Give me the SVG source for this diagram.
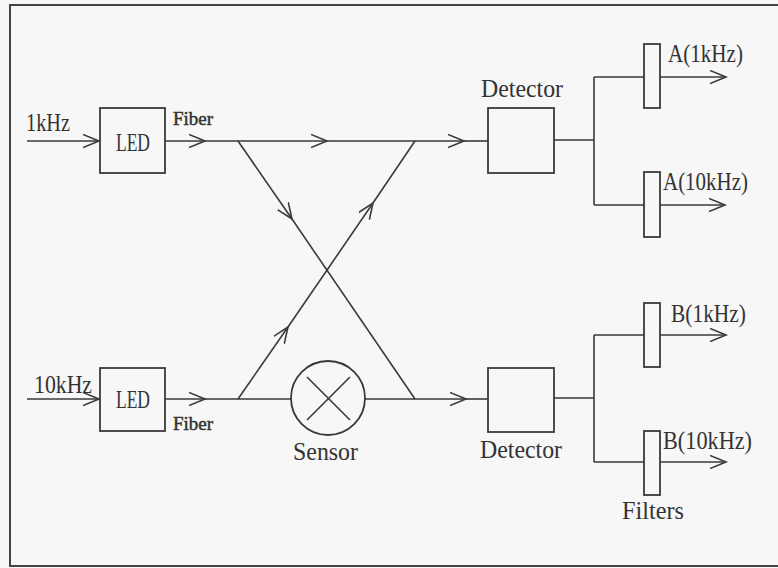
<svg xmlns="http://www.w3.org/2000/svg" width="778" height="568" viewBox="0 0 778 568">
<defs>
<marker id="ah" markerWidth="20" markerHeight="16" refX="16" refY="7" orient="auto" markerUnits="userSpaceOnUse">
<path d="M0,0.5 L16,7 L0,13.5" fill="none" stroke="#3a3a3a" stroke-width="1.6"/>
</marker>
<style>
.ln{fill:none;stroke:#3a3a3a;stroke-width:1.6}
.bx{fill:none;stroke:#3a3a3a;stroke-width:1.8}
.t{font-family:"Liberation Serif","DejaVu Serif",serif;fill:#333;font-size:26px}
.f{font-family:"Liberation Serif","DejaVu Serif",serif;fill:#333;font-size:19px;stroke:#333;stroke-width:0.5}
</style>
</defs>
<rect x="0" y="0" width="778" height="568" fill="#f7f7f7"/>
<path d="M778,5 L10,5 L10,566 L778,566" fill="none" stroke="#444" stroke-width="2"/>

<g id="connectors">
<line class="ln" x1="27" y1="141" x2="99" y2="141" marker-end="url(#ah)"/>
<line class="ln" x1="165" y1="141" x2="205" y2="141" marker-end="url(#ah)"/>
<line class="ln" x1="205" y1="141" x2="327" y2="141" marker-end="url(#ah)"/>
<line class="ln" x1="327" y1="141" x2="464" y2="141" marker-end="url(#ah)"/>
<line class="ln" x1="464" y1="141" x2="488" y2="141"/>
<line class="ln" x1="27" y1="399" x2="99" y2="399" marker-end="url(#ah)"/>
<line class="ln" x1="165" y1="399" x2="205" y2="399" marker-end="url(#ah)"/>
<line class="ln" x1="205" y1="399" x2="291" y2="399"/>
<line class="ln" x1="365" y1="399" x2="466" y2="399" marker-end="url(#ah)"/>
<line class="ln" x1="466" y1="399" x2="488" y2="399"/>
<line class="ln" x1="238" y1="141" x2="292" y2="219" marker-end="url(#ah)"/>
<line class="ln" x1="292" y1="219" x2="415" y2="399"/>
<line class="ln" x1="238" y1="399" x2="288" y2="327" marker-end="url(#ah)"/>
<line class="ln" x1="288" y1="327" x2="373" y2="203" marker-end="url(#ah)"/>
<line class="ln" x1="373" y1="203" x2="415" y2="141"/>
<path class="ln" d="M554,140 L594,140 M594,77 L594,205 M594,77 L644,77 M594,205 L644,205"/>
<line class="ln" x1="660" y1="77" x2="726" y2="77" marker-end="url(#ah)"/>
<line class="ln" x1="660" y1="205" x2="725" y2="205" marker-end="url(#ah)"/>
<path class="ln" d="M554,398 L594,398 M594,335 L594,462 M594,335 L644,335 M594,462 L644,462"/>
<line class="ln" x1="660" y1="335" x2="726" y2="335" marker-end="url(#ah)"/>
<line class="ln" x1="660" y1="462" x2="726" y2="462" marker-end="url(#ah)"/>
</g>

<g id="in1k"><text class="t" x="26" y="131" textLength="44" lengthAdjust="spacingAndGlyphs">1kHz</text></g>
<g id="in10k"><text class="t" x="34" y="393" textLength="58" lengthAdjust="spacingAndGlyphs">10kHz</text></g>
<g id="led1"><rect class="bx" x="100" y="108" width="65" height="65"/><text class="t" x="133" y="151" text-anchor="middle" textLength="34" lengthAdjust="spacingAndGlyphs">LED</text></g>
<g id="led2"><rect class="bx" x="100" y="368" width="65" height="63"/><text class="t" x="133" y="408" text-anchor="middle" textLength="34" lengthAdjust="spacingAndGlyphs">LED</text></g>
<g id="fiber1"><text class="f" x="173" y="125" textLength="40" lengthAdjust="spacingAndGlyphs">Fiber</text></g>
<g id="fiber2"><text class="f" x="173" y="430" textLength="40" lengthAdjust="spacingAndGlyphs">Fiber</text></g>
<g id="sensor">
<circle class="bx" cx="328" cy="398" r="37"/>
<path class="ln" d="M307,377 L350,420 M350,377 L307,420"/>
<text class="t" x="293" y="460" textLength="65" lengthAdjust="spacingAndGlyphs">Sensor</text>
</g>
<g id="det1"><rect class="bx" x="488" y="108" width="66" height="65"/><text class="t" x="481" y="97" textLength="82" lengthAdjust="spacingAndGlyphs">Detector</text></g>
<g id="det2"><rect class="bx" x="488" y="368" width="66" height="64"/><text class="t" x="480" y="458" textLength="82" lengthAdjust="spacingAndGlyphs">Detector</text></g>
<g id="fA1"><rect class="bx" x="644" y="44" width="16" height="64"/><text class="t" x="668" y="62" textLength="75" lengthAdjust="spacingAndGlyphs">A(1kHz)</text></g>
<g id="fA10"><rect class="bx" x="644" y="172" width="16" height="65"/><text class="t" x="663" y="190" textLength="85" lengthAdjust="spacingAndGlyphs">A(10kHz)</text></g>
<g id="fB1"><rect class="bx" x="644" y="303" width="16" height="64"/><text class="t" x="671" y="322" textLength="75" lengthAdjust="spacingAndGlyphs">B(1kHz)</text></g>
<g id="fB10"><rect class="bx" x="644" y="431" width="16" height="64"/><text class="t" x="663" y="449" textLength="89" lengthAdjust="spacingAndGlyphs">B(10kHz)</text></g>
<g id="filters"><text class="t" x="622" y="519" textLength="62" lengthAdjust="spacingAndGlyphs">Filters</text></g>
</svg>
